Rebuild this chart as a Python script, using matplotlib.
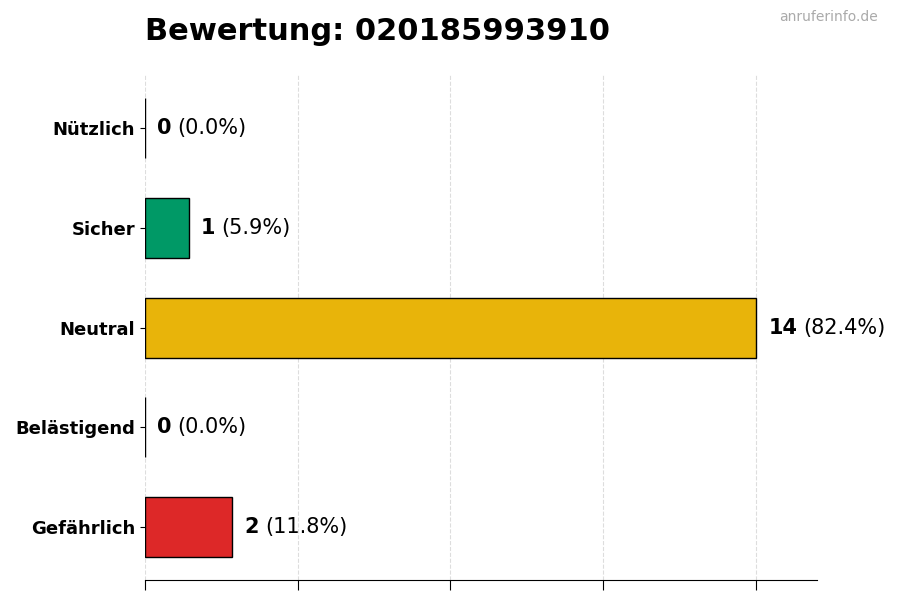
import matplotlib
matplotlib.use("Agg")
import matplotlib.pyplot as plt

categories = ["Nützlich", "Sicher", "Neutral", "Belästigend", "Gefährlich"]
counts = [0, 1, 14, 0, 2]
colors = ["#2a9d5c", "#009966", "#e8b40a", "#f07c1e", "#dd2828"]
title = "Bewertung: 020185993910"

total = sum(counts)

fig = plt.figure(figsize=(9, 6), dpi=100)
ax = fig.add_axes([0.161, 0.033, 0.747, 0.842])

ypos = list(range(len(categories)))
ax.barh(ypos, counts, height=0.6, color=colors, edgecolor="black", linewidth=1)
ax.invert_yaxis()
ax.set_yticks(ypos)
ax.set_yticklabels(categories, fontsize=13, fontweight="bold")

xmax = max(counts)
ax.set_xlim(0, xmax * 1.1)
ax.set_xticks([xmax * i / 4 for i in range(5)])
ax.set_xticklabels([])
ax.tick_params(axis="x", length=7)
ax.grid(axis="x", linestyle="--", color="#dddddd", linewidth=0.8)
ax.set_axisbelow(True)
for s in ["top", "right", "left"]:
    ax.spines[s].set_visible(False)

# value labels: bold count + normal percentage
for y, v in zip(ypos, counts):
    pct = v / total * 100
    t1 = ax.annotate(str(v), xy=(v, y), xytext=(9, 0), textcoords="offset points",
                     fontsize=15, fontweight="bold", va="center", ha="left")
    ax.annotate(f"({pct:.1f}%)", xy=(1, 0.5), xycoords=t1, xytext=(4, 0),
                textcoords="offset points", fontsize=15, va="center", ha="left")

fig.text(0.161, 0.948, title, fontsize=22, fontweight="bold", ha="left", va="center")
fig.text(0.975, 0.971, "anruferinfo.de", fontsize=10, color="#aaaaaa", ha="right", va="center")

fig.savefig("out.png", dpi=100)
